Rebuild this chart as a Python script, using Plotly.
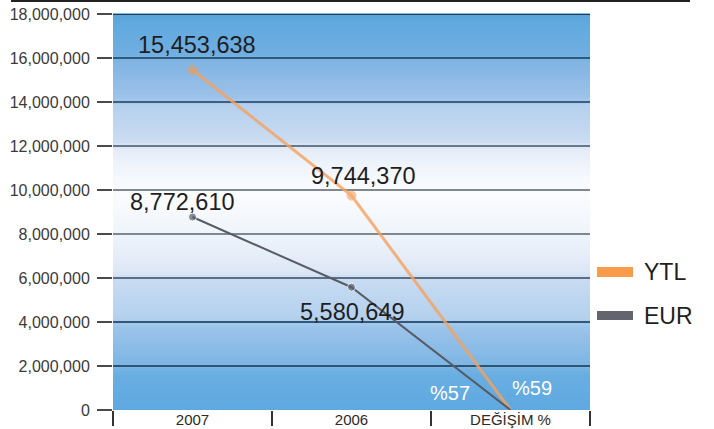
import plotly.graph_objects as go

# Categories and series values
categories = ["2007", "2006", "DEĞİŞİM %"]
ytl_values = [15453638, 9744370, 59]
eur_values = [8772610, 5580649, 57]
ytl_labels = ["15,453,638", "9,744,370", "%59"]
eur_labels = ["8,772,610", "5,580,649", "%57"]
y_ticks = [0, 2000000, 4000000, 6000000, 8000000, 10000000,
           12000000, 14000000, 16000000, 18000000]

FONT = "Liberation Sans, Arial, Helvetica, sans-serif"
ORANGE = "#f6a25e"
GREY = "#585c66"

W, H = 714, 429
L, R, T, B = 113, 124, 14, 19
PW, PH = W - L - R, H - T - B


def px_x(x):
    return (x - L) / PW


def px_y(y):
    return (H - B - y) / PH


def hex_rgb(h):
    h = h.lstrip("#")
    return tuple(int(h[i:i + 2], 16) for i in (0, 2, 4))


# Vertical background gradient: (fraction of plot height from bottom, colour)
stops = [
    (0.00, "#5fa9e1"), (0.09, "#68aee2"), (0.11, "#7cb5e4"),
    (0.21, "#9cc4ea"), (0.23, "#b2d0ee"), (0.33, "#c8dcf2"),
    (0.35, "#dde8f6"), (0.45, "#f0f5fb"), (0.55, "#fbfcfe"),
    (0.62, "#eff4fb"), (0.66, "#e2ebf7"), (0.68, "#cadcf1"),
    (0.77, "#b4d0ee"), (0.79, "#9cc2e9"), (0.88, "#80b4e2"),
    (0.90, "#70aee1"), (0.97, "#62aadf"), (1.00, "#5aa4dc"),
]


def colour_at(f):
    for (f0, c0), (f1, c1) in zip(stops, stops[1:]):
        if f0 <= f <= f1:
            t = 0 if f1 == f0 else (f - f0) / (f1 - f0)
            a, b = hex_rgb(c0), hex_rgb(c1)
            return "rgb(%d,%d,%d)" % tuple(round(a[i] + (b[i] - a[i]) * t) for i in range(3))
    return stops[-1][1]


shapes = []
n_strips = 132
for i in range(n_strips):
    f0, f1 = i / n_strips, (i + 1) / n_strips
    shapes.append(dict(type="rect", xref="paper", yref="paper", x0=0, x1=1,
                       y0=f0, y1=f1 + 0.002, line=dict(width=0),
                       fillcolor=colour_at((f0 + f1) / 2), layer="below"))

# Horizontal rules at each tick: dark blue in the blue bands, grey in the pale middle
grid_colours = ["#2e5474", "#33597a", "#5c6f82", "#7d878f", "#80888e",
                "#66788a", "#3a6184", "#2f5a80", "#1f3c5a"]
for yv, col in zip(y_ticks[1:], grid_colours):
    shapes.append(dict(type="line", xref="paper", yref="y", x0=0, x1=1,
                       y0=yv, y1=yv, line=dict(color=col, width=2), layer="below"))

# Rule across the top of the page
shapes.append(dict(type="line", xref="paper", yref="paper",
                   x0=px_x(11), x1=px_x(690), y0=px_y(1), y1=px_y(1),
                   line=dict(color="#222222", width=2)))

# Legend swatches
shapes.append(dict(type="rect", xref="paper", yref="paper",
                   x0=px_x(597), x1=px_x(633), y0=px_y(277), y1=px_y(267),
                   line=dict(width=0), fillcolor="#f89c4c"))
shapes.append(dict(type="rect", xref="paper", yref="paper",
                   x0=px_x(597), x1=px_x(633), y0=px_y(320), y1=px_y(311),
                   line=dict(width=0), fillcolor="#62656e"))

fig = go.Figure()
fig.add_trace(go.Scatter(
    x=categories, y=ytl_values, mode="lines+markers", name="YTL",
    line=dict(color=ORANGE, width=3), opacity=0.8,
    marker=dict(size=[9, 9, 0], color="#f59a4a"), cliponaxis=False,
    showlegend=False))
fig.add_trace(go.Scatter(
    x=categories, y=eur_values, mode="lines+markers", name="EUR",
    line=dict(color=GREY, width=2),
    marker=dict(size=[8, 8, 0], color=GREY), cliponaxis=False,
    showlegend=False))

annotations = []
# Value labels, placed by category index so numeric-looking names stay categorical
offsets_ytl = [(4, 25), (12, 20), (21, 22)]
offsets_eur = [(-10, 15), (1, -25), (-61, 17)]
for series, labels, offsets in ((ytl_values, ytl_labels, offsets_ytl),
                                (eur_values, eur_labels, offsets_eur)):
    for i, (val, txt) in enumerate(zip(series, labels)):
        dx, dy = offsets[i]
        last = i == len(categories) - 1
        annotations.append(dict(x=i, y=val, xref="x", yref="y", text=txt,
                                showarrow=False, xshift=dx, yshift=dy,
                                font=dict(family=FONT, size=20 if last else 23.5,
                                          color="#ffffff" if last else "#1e1e1e")))

# Legend texts
annotations.append(dict(xref="paper", yref="paper", x=px_x(642), y=px_y(272),
                        xanchor="left", yanchor="middle", text="YTL", showarrow=False,
                        font=dict(family=FONT, size=23, color="#1e1e1e")))
annotations.append(dict(xref="paper", yref="paper", x=px_x(642), y=px_y(316),
                        xanchor="left", yanchor="middle", text="EUR", showarrow=False,
                        font=dict(family=FONT, size=23, color="#1e1e1e")))

fig.update_layout(
    width=W, height=H,
    margin=dict(l=L, r=R, t=T, b=B, autoexpand=False),
    paper_bgcolor="#ffffff",
    plot_bgcolor="rgba(0,0,0,0)",
    shapes=shapes,
    annotations=annotations,
    font=dict(family=FONT),
)
fig.update_xaxes(
    type="category", range=[-0.5, 2.5], tickson="boundaries",
    ticks="outside", ticklen=15, tickwidth=1.5, tickcolor="#333333",
    ticklabelstandoff=-1, automargin=False,
    showgrid=False, showline=False, zeroline=False,
    tickfont=dict(family=FONT, size=15, color="#2a2a2a"),
)
fig.update_yaxes(
    range=[0, 18000000], tickvals=y_ticks, tickformat=",d",
    ticks="outside", ticklen=15, tickwidth=2, tickcolor="#4a4a4a",
    ticklabelstandoff=4, automargin=False,
    showgrid=False, zeroline=False, showline=False,
    tickfont=dict(family=FONT, size=16, color="#3a3a3a"),
)

fig.write_html("out.html")
